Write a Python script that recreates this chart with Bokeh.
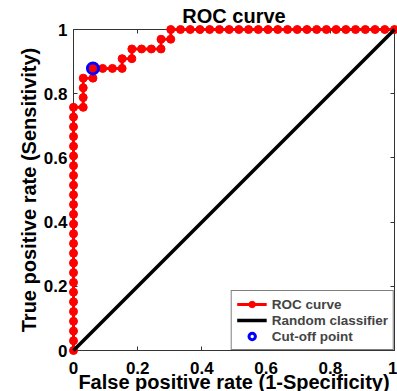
from bokeh.plotting import figure
from bokeh.models import Range1d, LinearAxis, FixedTicker, Legend, LegendItem
from bokeh.core.properties import value
from bokeh.embed import file_html
from bokeh.resources import INLINE

# ---- data ----
N_NEG = 33
N_POS = 33
roc_fp_count = [0, 0, 0, 0, 0, 0, 0, 0, 0, 0, 0, 0, 0, 0, 0, 0, 0, 0, 0, 0,
                0, 0, 0, 0, 0, 0,
                1, 1, 1, 1, 2, 2, 3, 4, 5, 5, 6, 6, 7, 8, 9, 9, 10, 10,
                11, 12, 13, 14, 15, 16, 17, 18, 19, 20, 21, 22, 23, 24, 25, 26,
                27, 28, 29, 30, 31, 32, 33]
roc_tp_count = [0, 1, 2, 3, 4, 5, 6, 7, 8, 9, 10, 11, 12, 13, 14, 15, 16, 17, 18, 19,
                20, 21, 22, 23, 24, 25,
                25, 26, 27, 28, 28, 29, 29, 29, 29, 30, 30, 31, 31, 31, 31, 32, 32, 33,
                33, 33, 33, 33, 33, 33, 33, 33, 33, 33, 33, 33, 33, 33, 33, 33,
                33, 33, 33, 33, 33, 33, 33]
cutoff_fp_count = [2]
cutoff_tp_count = [29]
random_x = [0, 1]
random_y = [0, 1]
tick_values = [0, 0.2, 0.4, 0.6, 0.8, 1]
tick_labels = ["0", "0.2", "0.4", "0.6", "0.8", "1"]
title_text = "ROC curve"
x_label = "False positive rate (1-Specificity)"
y_label = "True positive rate (Sensitivity)"

roc_fpr = [c / N_NEG for c in roc_fp_count]
roc_tpr = [c / N_POS for c in roc_tp_count]
cut_fpr = [c / N_NEG for c in cutoff_fp_count]
cut_tpr = [c / N_POS for c in cutoff_tp_count]

FONT = "Liberation Sans"
AX = "#333333"

p = figure(width=397, height=391, x_range=Range1d(0, 1), y_range=Range1d(0, 1),
           output_backend="svg", toolbar_location=None,
           min_border_left=73, min_border_right=3, min_border_top=29, min_border_bottom=41)
p.grid.visible = False
p.outline_line_color = None
p.background_fill_color = "white"

overrides = {v: l for v, l in zip(tick_values, tick_labels)}

def style_axis(ax, show_labels=True):
    ax.ticker = FixedTicker(ticks=tick_values)
    ax.axis_line_color = AX
    ax.axis_line_width = 1
    ax.major_tick_line_color = AX
    ax.major_tick_in = 4
    ax.major_tick_out = 0
    ax.minor_tick_line_color = None
    if show_labels:
        ax.major_label_overrides = overrides
        ax.major_label_text_font = FONT
        ax.major_label_text_font_style = "bold"
        ax.major_label_text_font_size = "17px"
        ax.major_label_text_color = "black"
        ax.axis_label_text_font = FONT
        ax.axis_label_text_font_style = "bold"
        ax.axis_label_text_font_size = "20px"
        ax.axis_label_text_color = "black"
    else:
        ax.major_label_text_font_size = "0px"
        ax.major_label_text_color = None
        ax.major_label_standoff = 0

for ax in p.xaxis:
    style_axis(ax)
    ax.major_label_standoff = 11
for ax in p.yaxis:
    style_axis(ax)
    ax.axis_label = y_label
    ax.major_label_standoff = 6
    ax.axis_label_standoff = 1

top_ax = LinearAxis()
style_axis(top_ax, show_labels=False)
p.add_layout(top_ax, "above")
right_ax = LinearAxis()
style_axis(right_ax, show_labels=False)
p.add_layout(right_ax, "right")

roc_line = p.line(roc_fpr, roc_tpr, line_color="red", line_width=3, level="overlay")
roc_pts = p.scatter(roc_fpr, roc_tpr, size=8, fill_color="red", line_color="red",
                    line_width=1, level="overlay")
diag = p.line(random_x, random_y, line_color="black", line_width=3.5, level="overlay")
cut = p.scatter(cut_fpr, cut_tpr, size=11, fill_color=None, line_color="blue",
                line_width=3, level="overlay")

# title and x-axis label as unclipped text glyphs just outside the frame
p.text(x=[0.5], y=[1], text=[title_text], text_align="center", text_baseline="alphabetic",
       y_offset=-14, text_font=value(FONT), text_font_style="bold",
       text_font_size="20px", text_color="black", level="overlay")
p.text(x=[0.5], y=[0], text=[x_label], text_align="center", text_baseline="alphabetic",
       y_offset=31, text_font=value(FONT), text_font_style="bold",
       text_font_size="20px", text_color="black", level="overlay")

legend = Legend(items=[LegendItem(label="ROC curve", renderers=[roc_line, roc_pts]),
                       LegendItem(label="Random classifier", renderers=[diag]),
                       LegendItem(label="Cut-off point", renderers=[cut])],
                location="bottom_right", margin=0, padding=5, spacing=0,
                glyph_width=30, glyph_height=16, label_height=16, label_standoff=5,
                label_text_font=FONT, label_text_font_style="bold",
                label_text_font_size="13.5px",
                border_line_color="black", border_line_width=1,
                background_fill_color="white", background_fill_alpha=1)
p.add_layout(legend)

open("out.html", "w").write(file_html(p, INLINE))
